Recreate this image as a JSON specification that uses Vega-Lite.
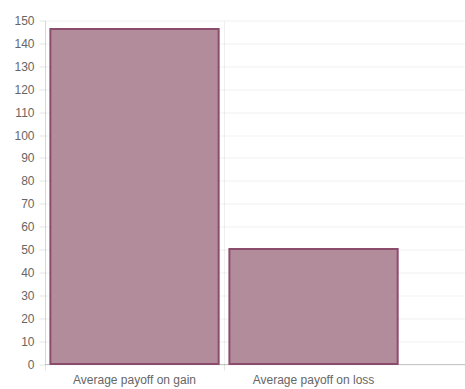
{
  "$schema": "https://vega.github.io/schema/vega-lite/v6.json",
  "width": 420,
  "height": 343.5,
  "autosize": {"type": "none"},
  "padding": {"left": 45, "top": 20.5, "right": 0, "bottom": 25},
  "background": "white",
  "config": {
    "view": {"stroke": null},
    "axis": {
      "labelFont": "Liberation Sans",
      "labelFontSize": 12,
      "labelColor": "#666666",
      "gridColor": "#000000",
      "gridOpacity": 0.06,
      "tickColor": "#000000",
      "tickOpacity": 0.1,
      "domainColor": "#000000",
      "domainOpacity": 0.1,
      "title": null
    }
  },
  "data": {
    "values": [
      {"category": "Average payoff on gain", "value": 146.3},
      {"category": "Average payoff on loss", "value": 50.2}
    ]
  },
  "mark": {
    "type": "bar",
    "width": {"band": 0.94},
    "fill": "#b38c9c",
    "stroke": "#8c4d6d",
    "strokeWidth": 2
  },
  "encoding": {
    "x": {
      "field": "category",
      "type": "nominal",
      "sort": null,
      "scale": {"paddingInner": 0, "paddingOuter": 0.173, "align": 0},
      "axis": {
        "labelAngle": 0,
        "grid": true,
        "bandPosition": 0,
        "tickSize": 6,
        "labelPadding": 4,
        "domainOpacity": 0.2
      }
    },
    "y": {
      "field": "value",
      "type": "quantitative",
      "scale": {"domain": [0, 150], "nice": false},
      "axis": {
        "values": [0, 10, 20, 30, 40, 50, 60, 70, 80, 90, 100, 110, 120, 130, 140, 150],
        "tickSize": 6,
        "labelPadding": 5,
        "grid": true
      }
    }
  }
}
